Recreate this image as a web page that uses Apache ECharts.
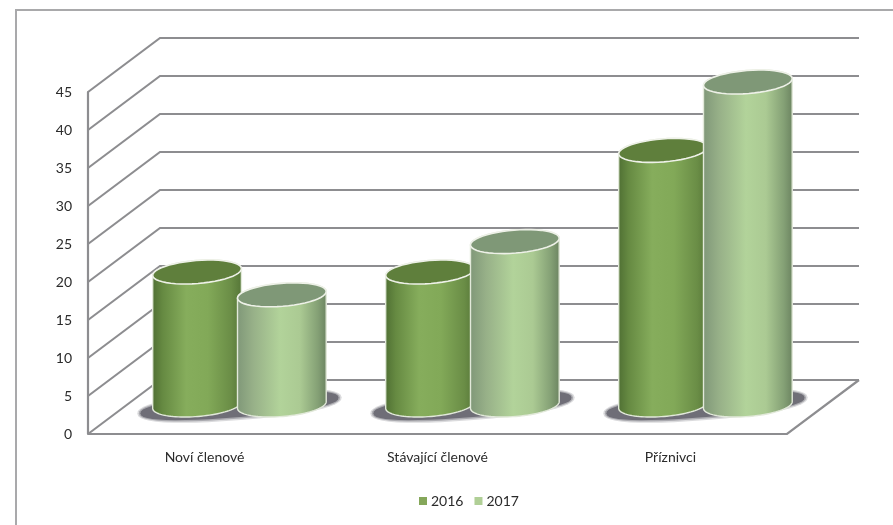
<!DOCTYPE html>
<html>
<head>
<meta charset="utf-8">
<style>html,body{margin:0;padding:0;background:#fff}#c{width:893px;height:525px}</style>
<script src="https://cdn.jsdelivr.net/npm/echarts@6/dist/echarts.min.js"></script>
</head>
<body>
<div id="c"></div>
<script>
var categories = ['Noví členové', 'Stávající členové', 'Příznivci'];
var values2016 = [20, 20, 36];
var values2017 = [17, 24, 45];
var wallTicks = [0, 5, 10, 15, 20, 25, 30, 35, 40, 45];
var maxValue = 45;
var tickStep = 5;

var FONT = 'Lato,"Open Sans",sans-serif';
var TEXT = '#2b2b2b', WALL = '#8d8d90';
var DEPTH_X = 72, DEPTH_Y = -54;

function tiltedEllipse(cx, cy, rx, ry, from, to, power) {
  var pts = [], tilt = -4.6 * Math.PI / 180, n = 48, k = power || 1;
  function bend(c) { return (c < 0 ? -1 : 1) * Math.pow(Math.abs(c), k); }
  for (var i = 0; i <= n; i++) {
    var a = from + (to - from) * i / n;
    var x = rx * bend(Math.cos(a)), y = ry * bend(Math.sin(a));
    pts.push([cx + x * Math.cos(tilt) - y * Math.sin(tilt),
              cy + x * Math.sin(tilt) + y * Math.cos(tilt)]);
  }
  return pts;
}
function hGrad(stops) {
  return new echarts.graphic.LinearGradient(0, 0, 1, 0,
    stops.map(function (s) { return { offset: s[0], color: s[1] }; }));
}

function renderWalls(params, api) {
  var g = params.coordSys, v = api.value(0);
  var p = api.coord([0, v]);
  var y = p[1], x0 = g.x, x1 = g.x + g.width;
  var children = [{
    type: 'polyline',
    shape: { points: [[x0, y], [x0 + DEPTH_X, y + DEPTH_Y], [x1 + DEPTH_X, y + DEPTH_Y]] },
    style: { fill: null, stroke: WALL, lineWidth: 2.1 }
  }];
  if (v === 0) {
    children.push({
      type: 'polyline',
      shape: { points: [[x0, y], [x1, y], [x1 + DEPTH_X, y + DEPTH_Y]] },
      style: { fill: null, stroke: WALL, lineWidth: 2.2 }
    });
  }
  return { type: 'group', children: children };
}

function renderShadow(params, api) {
  var cat = api.value(0);
  var c = api.coord([cat, 0]), band = api.size([1, 0])[0];
  var cx = c[0] + band * 0.15, cy = c[1] - 28.5;
  var layers = [[1.0, 3, 0.25], [0.985, 1.5, 0.45], [0.97, 0, 1]];
  return {
    type: 'group',
    children: layers.map(function (l) {
      return {
        type: 'polygon',
        shape: { points: tiltedEllipse(cx, cy, band * 0.44 * l[0], 11.5 + l[1], 0, Math.PI * 2, 0.85) },
        style: { fill: '#6f6e77', opacity: l[2] }
      };
    })
  };
}

function cylinderRenderer(side, body, topFill) {
  return function (params, api) {
    var cat = api.value(0), v = api.value(1);
    var c0 = api.coord([cat, 0]), c1 = api.coord([cat, v]);
    var band = api.size([1, 0])[0];
    var cx = c0[0] + band * (0.15 + side * 0.182);
    var rx = band * 0.191, ry = 11.5;
    var botY = c0[1] - 29, topY = c1[1] - 10;
    var top = tiltedEllipse(cx, topY, rx, ry, 0, Math.PI * 2);
    var bottomArc = tiltedEllipse(cx, botY, rx, ry, 0, Math.PI);
    var topBack = tiltedEllipse(cx, topY, rx, ry, Math.PI, Math.PI * 2);
    return {
      type: 'group',
      children: [{
        type: 'polygon',
        shape: { points: bottomArc.concat(topBack) },
        style: { fill: hGrad(body), stroke: '#e2e9da', lineWidth: 1.4 }
      }, {
        type: 'polygon',
        shape: { points: top },
        style: { fill: topFill, stroke: '#eef1e8', lineWidth: 1.6 }
      }]
    };
  };
}

function barData(vals) { return vals.map(function (v, i) { return [i, v]; }); }

var chart = echarts.init(document.getElementById('c'), null, { renderer: 'canvas' });
chart.setOption({
  animation: false,
  backgroundColor: '#fff',
  graphic: [
    { type: 'polyline', silent: true,
      shape: { points: [[16, 525], [16, 10], [893, 10]] },
      style: { fill: null, stroke: '#a9a9ab', lineWidth: 2 } }
  ],
  grid: { left: 88, top: 92, width: 699, height: 342, containLabel: false },
  legend: {
    left: 414, top: 489,
    itemWidth: 8, itemHeight: 8, itemGap: 11,
    icon: 'rect',
    textStyle: { fontFamily: FONT, fontSize: 14, color: TEXT, padding: [0, 0, 0, -1] },
    data: ['2016', '2017']
  },
  xAxis: {
    type: 'category', data: categories,
    axisLine: { show: false }, axisTick: { show: false }, splitLine: { show: false },
    axisLabel: { fontFamily: FONT, fontSize: 14, color: TEXT, margin: 16 }
  },
  yAxis: {
    type: 'value', min: 0, max: maxValue, interval: tickStep,
    axisLine: { show: true, lineStyle: { color: WALL, width: 2.2 } },
    axisTick: { show: false }, splitLine: { show: false },
    axisLabel: { fontFamily: FONT, fontSize: 14, color: TEXT, margin: 16 }
  },
  series: [
    { type: 'custom', name: 'walls', silent: true, z: 1,
      data: wallTicks.map(function (t) { return [t]; }),
      encode: { y: 0 }, renderItem: renderWalls, clip: false },
    { type: 'custom', name: 'shadow', silent: true, z: 2,
      data: barData(values2016), encode: { x: 0, y: 1 }, renderItem: renderShadow, clip: false },
    { type: 'custom', name: '2016', z: 3, itemStyle: { color: '#85a75a' },
      data: barData(values2016), encode: { x: 0, y: 1 }, clip: false,
      renderItem: cylinderRenderer(-1,
        [[0, '#4f6f33'], [0.12, '#668a42'], [0.38, '#86ad5c'], [0.62, '#82a958'], [0.88, '#6a8d46'], [1, '#557537']],
        '#5f7f3c') },
    { type: 'custom', name: '2017', z: 4, itemStyle: { color: '#b0cf96' },
      data: barData(values2017), encode: { x: 0, y: 1 }, clip: false,
      renderItem: cylinderRenderer(1,
        [[0, '#7f9778'], [0.18, '#97b088'], [0.48, '#b2d39a'], [0.7, '#abca93'], [0.9, '#84a075'], [1, '#6b8360']],
        '#7f9877') }
  ]
});
</script>
</body>
</html>
